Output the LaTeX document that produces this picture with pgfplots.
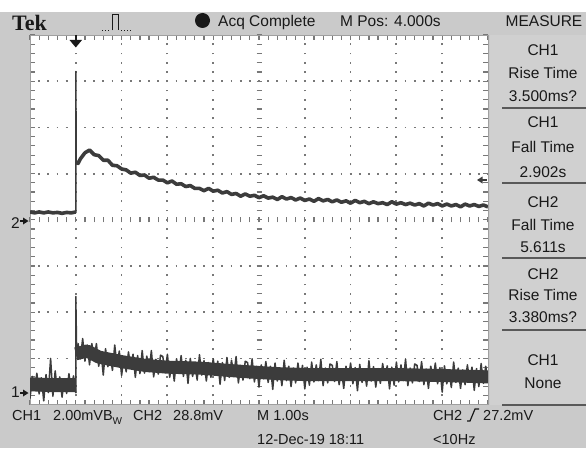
\documentclass[border=0pt]{standalone}
\usepackage{pgfplots}
\pgfplotsset{compat=1.18}
\usepackage{fontspec}
\setmainfont{Liberation Sans}
\newfontfamily\tekfont{Liberation Serif}
\definecolor{scrbg}{RGB}{202,202,202}
\definecolor{panel}{RGB}{208,208,208}
\definecolor{trace}{RGB}{60,60,60}
\definecolor{grat}{RGB}{120,120,120}
\definecolor{txt}{RGB}{25,25,25}

\begin{document}
\begin{tikzpicture}[x=1pt,y=1pt,
  lbl/.style={font=\fontsize{15.5}{16}\selectfont, inner sep=0pt, text=txt},
  blbl/.style={font=\fontsize{14.5}{15}\selectfont, inner sep=0pt, text=txt, anchor=base west}]
\useasboundingbox (0,0) rectangle (586,448);
\fill[scrbg] (0,0) rectangle (586,436);
\fill[white] (0,436) rectangle (586,448);
\fill[panel] (490,43) rectangle (586,413);
\fill[white] (30,43.4) rectangle (488,413);

% centre graticule ticks
\foreach \k in {0,...,50} \draw[grat, line width=1.2pt] ({30+9.16*\k},225.7) -- ++(0,5);
\foreach \k in {0,...,40} \draw[grat, line width=1.2pt] (256.5,{43.4+9.24*\k}) -- ++(5,0);

\begin{axis}[
  at={(30pt,43.4pt)}, anchor=south west,
  width=458pt, height=369.6pt, scale only axis,
  xmin=-1, xmax=9, ymin=-4, ymax=4,
  xtick={0,1,2,3,5,6,7,8}, ytick={-3,-2,-1,1,2,3},
  xticklabel=\empty, yticklabel=\empty,
  minor xtick={-1,-0.8,...,9}, minor ytick={-4,-3.8,...,4},
  major tick length=0pt, minor tick length=4.5pt, tick align=inside,
  minor tick style={grat, line width=1.2pt},
  axis line style={grat!70, line width=0.8pt},
  grid=major,
  major x grid style={grat, line width=1.8pt, dash pattern=on 1.8pt off 7.44pt, dash phase=0.9pt},
  major y grid style={grat, line width=1.8pt, dash pattern=on 1.8pt off 7.36pt, dash phase=0.9pt},
  every axis plot/.append style={draw=trace, no markers, line join=round},
]
% CH2 (upper trace)
\addplot[line width=3.6pt] coordinates {(-1,0.17)(-0.9,0.15)(-0.8,0.17)(-0.7,0.15)(-0.6,0.17)(-0.5,0.15)(-0.4,0.16)(-0.3,0.14)(-0.2,0.16)(-0.1,0.15)(0,0.17)};
\addplot[line width=1.5pt] coordinates {(0,0.15)(0,3.21)(0.01,1.25)};
\addplot[line width=3.6pt] coordinates {
(0.01,1.25)(0.05,1.22)(0.1,1.32)(0.2,1.45)(0.3,1.51)(0.4,1.41)(0.5,1.39)(0.6,1.29)(0.7,1.29)(0.8,1.18)(0.9,1.17)
(1.0,1.10)(1.1,1.08)(1.2,1.01)(1.3,1.03)(1.4,0.96)(1.5,0.97)(1.6,0.90)(1.7,0.92)(1.8,0.86)(1.9,0.86)
(2.0,0.80)(2.1,0.84)(2.2,0.77)(2.3,0.78)(2.4,0.72)(2.5,0.74)(2.6,0.68)(2.7,0.68)(2.8,0.63)(2.9,0.68)
(3.0,0.62)(3.1,0.64)(3.2,0.58)(3.3,0.61)(3.4,0.55)(3.5,0.57)(3.6,0.51)(3.7,0.56)(3.8,0.51)(3.9,0.53)
(4.0,0.48)(4.1,0.52)(4.2,0.47)(4.3,0.49)(4.4,0.44)(4.5,0.50)(4.6,0.45)(4.7,0.48)(4.8,0.43)(4.9,0.47)
(5.0,0.42)(5.1,0.45)(5.2,0.40)(5.3,0.46)(5.4,0.41)(5.5,0.44)(5.6,0.39)(5.7,0.43)(5.8,0.38)(5.9,0.41)
(6.0,0.36)(6.1,0.42)(6.2,0.37)(6.3,0.40)(6.4,0.35)(6.5,0.39)(6.6,0.35)(6.7,0.37)(6.8,0.33)(6.9,0.39)
(7.0,0.34)(7.1,0.37)(7.2,0.33)(7.3,0.36)(7.4,0.32)(7.5,0.35)(7.6,0.30)(7.7,0.36)(7.8,0.32)(7.9,0.35)
(8.0,0.30)(8.1,0.34)(8.2,0.30)(8.3,0.33)(8.4,0.28)(8.5,0.34)(8.6,0.30)(8.7,0.33)(8.8,0.29)(8.9,0.32)(9.0,0.28)};
% CH1 (lower trace): solid core band and noise
\addplot[line width=14pt, line cap=butt] coordinates {(-1,-3.56)(-0.5,-3.58)(0,-3.58)};
\addplot[line width=13pt, line cap=butt] coordinates {(0,-2.90)(0.25,-2.84)(0.5,-2.97)(1,-3.07)(1.5,-3.15)(2,-3.19)(2.7,-3.21)(3.6,-3.28)(4.4,-3.33)(5,-3.35)(7,-3.35)(8,-3.37)(9,-3.40)};
\addplot[line width=1.5pt] coordinates {
(-1.00,-3.87)(-0.95,-3.39)(-0.90,-3.69)(-0.85,-3.32)(-0.80,-3.77)(-0.75,-3.42)(-0.70,-3.92)(-0.65,-3.35)(-0.60,-3.74)(-0.55,-3.00)
(-0.50,-3.82)(-0.45,-3.27)(-0.40,-3.71)(-0.35,-3.40)(-0.30,-3.84)(-0.25,-3.44)(-0.20,-3.76)(-0.15,-3.33)(-0.10,-3.68)(-0.05,-3.38)(0,-3.75)};
\addplot[line width=1.5pt] coordinates {(0,-3.75)(0,-1.66)(0.02,-2.95)};
\addplot[line width=1.5pt] coordinates {
(0.02,-2.95)(0.05,-2.68)(0.10,-3.01)(0.15,-2.57)(0.20,-3.06)(0.25,-2.71)(0.30,-3.14)(0.35,-2.68)(0.40,-3.01)(0.45,-2.68)(0.50,-3.17)
(0.55,-2.86)(0.60,-3.36)(0.65,-2.79)(0.70,-3.18)(0.75,-2.91)(0.80,-3.26)(0.85,-2.71)(0.90,-3.15)(0.95,-2.84)(1.00,-3.37)
(1.05,-2.97)(1.10,-3.29)(1.15,-2.86)(1.20,-3.21)(1.25,-2.91)(1.30,-3.41)(1.35,-2.94)(1.40,-3.33)(1.45,-2.83)(1.50,-3.32)
(1.55,-2.95)(1.60,-3.29)(1.65,-2.83)(1.70,-3.40)(1.75,-3.02)(1.80,-3.34)(1.85,-2.93)(1.90,-2.96)(1.95,-3.31)(2.00,-2.91)
(2.05,-3.41)(2.10,-3.07)(2.15,-3.49)(2.20,-3.01)(2.25,-3.31)(2.30,-2.94)(2.35,-3.39)(2.40,-3.04)(2.45,-3.54)(2.50,-3.00)
(2.55,-3.39)(2.60,-3.12)(2.65,-3.47)(2.70,-2.92)(2.75,-3.36)(2.80,-3.05)(2.85,-3.49)(2.90,-3.09)(2.95,-3.41)(3.00,-3.01)
(3.05,-3.36)(3.10,-3.06)(3.15,-3.56)(3.20,-3.09)(3.25,-3.48)(3.30,-2.98)(3.35,-3.41)(3.40,-3.04)(3.45,-3.38)(3.50,-2.96)
(3.55,-3.53)(3.60,-3.15)(3.65,-3.47)(3.70,-3.06)(3.75,-3.09)(3.80,-3.44)(3.85,-3.01)(3.90,-3.51)(3.95,-3.17)(4.00,-3.62)
(4.05,-3.14)(4.10,-3.44)(4.15,-3.07)(4.20,-3.52)(4.25,-3.17)(4.30,-3.67)(4.35,-3.10)(4.40,-3.49)(4.45,-3.22)(4.50,-3.59)
(4.55,-3.04)(4.60,-3.48)(4.65,-3.17)(4.70,-3.61)(4.75,-3.21)(4.80,-3.53)(4.85,-3.10)(4.90,-3.45)(4.95,-3.15)(5.00,-3.66)
(5.05,-3.19)(5.10,-3.58)(5.15,-3.08)(5.20,-3.51)(5.25,-3.14)(5.30,-3.48)(5.35,-3.02)(5.40,-3.59)(5.45,-3.21)(5.50,-3.53)
(5.55,-3.12)(5.60,-3.15)(5.65,-3.50)(5.70,-3.07)(5.75,-3.57)(5.80,-3.23)(5.85,-3.65)(5.90,-3.17)(5.95,-3.47)(6.00,-3.10)
(6.05,-3.55)(6.10,-3.20)(6.15,-3.70)(6.20,-3.13)(6.25,-3.52)(6.30,-3.25)(6.35,-3.60)(6.40,-3.05)(6.45,-3.49)(6.50,-3.18)
(6.55,-3.62)(6.60,-3.22)(6.65,-3.54)(6.70,-3.11)(6.75,-3.46)(6.80,-3.16)(6.85,-3.66)(6.90,-3.19)(6.95,-3.58)(7.00,-3.08)
(7.05,-3.51)(7.10,-3.14)(7.15,-3.48)(7.20,-3.02)(7.25,-3.59)(7.30,-3.21)(7.35,-3.53)(7.40,-3.12)(7.45,-3.15)(7.50,-3.50)
(7.55,-3.07)(7.60,-3.57)(7.65,-3.23)(7.70,-3.65)(7.75,-3.17)(7.80,-3.47)(7.85,-3.10)(7.90,-3.55)(7.95,-3.20)(8.00,-3.73)
(8.05,-3.16)(8.10,-3.55)(8.15,-3.28)(8.20,-3.63)(8.25,-3.08)(8.30,-3.52)(8.35,-3.21)(8.40,-3.65)(8.45,-3.25)(8.50,-3.57)
(8.55,-3.14)(8.60,-3.49)(8.65,-3.19)(8.70,-3.69)(8.75,-3.22)(8.80,-3.61)(8.85,-3.11)(8.90,-3.54)(8.95,-3.17)(9.00,-3.51)};
\end{axis}

% trigger position and level markers
\draw[txt, line width=1.6pt] (75.8,413) -- (75.8,407);
\fill[txt] (69.5,408) -- (82,408) -- (75.8,400.5) -- cycle;
\fill[trace] (477,268) -- (482.5,264.5) -- (482.5,271.5) -- cycle;
\draw[trace, line width=1.2pt] (482,268) -- (487,268);

% channel ground markers
\node[lbl] at (15.5,225) {2};
\draw[txt, line width=1.2pt] (20,227) -- (24,227);
\fill[txt] (23,223.5) -- (28.5,227) -- (23,230.5) -- cycle;
\node[lbl] at (15.5,55.5) {1};
\draw[txt, line width=1.2pt] (20,55) -- (24,55);
\fill[txt] (23,51.5) -- (28.5,55) -- (23,58.5) -- cycle;

% top bar
\node[anchor=base west, inner sep=0pt, text=txt, font=\tekfont\bfseries\fontsize{22}{22}\selectfont] at (12,417) {Tek};
\draw[txt, line width=0.9pt] (112,417.5) -- (112,434) -- (118,434) -- (118,417.5);
\draw[txt, line width=1pt, dotted] (102,417.5) -- (110,417.5);
\draw[txt, line width=1pt, dotted] (121,417.5) -- (133,417.5);
\fill[txt] (202.5,427.5) circle (7.5);
\node[lbl, anchor=base west] at (218,421) {Acq Complete};
\node[lbl, anchor=base west] at (340,421) {M Pos: 4.000s};
\node[lbl, anchor=base] at (544,421) {MEASURE};

% measurement panel
\foreach \y in {108,183,258,330,405} \draw[black!65, line width=1.5pt] (502,{448-\y}) -- (586,{448-\y});
\node[lbl, anchor=base] at (543,392) {CH1};
\node[lbl, anchor=base] at (543,369) {Rise Time};
\node[lbl, anchor=base] at (543,346) {3.500ms?};
\node[lbl, anchor=base] at (543,320) {CH1};
\node[lbl, anchor=base] at (543,295) {Fall Time};
\node[lbl, anchor=base] at (543,271) {2.902s};
\node[lbl, anchor=base] at (543,241) {CH2};
\node[lbl, anchor=base] at (543,218) {Fall Time};
\node[lbl, anchor=base] at (543,196) {5.611s};
\node[lbl, anchor=base] at (543,169) {CH2};
\node[lbl, anchor=base] at (543,148) {Rise Time};
\node[lbl, anchor=base] at (543,126) {3.380ms?};
\node[lbl, anchor=base] at (543,83) {CH1};
\node[lbl, anchor=base] at (543,60) {None};

% bottom status lines
\node[blbl] at (12,28) {CH1};
\node[blbl] at (53,28) {2.00mV};
\node[blbl] at (103,28) {B};
\node[anchor=base west, inner sep=0pt, text=txt, font=\fontsize{10}{10}\selectfont] at (112.5,24) {W};
\node[blbl] at (133,28) {CH2};
\node[blbl] at (173,28) {28.8mV};
\node[blbl] at (257,28) {M 1.00s};
\node[blbl] at (433,28) {CH2};
\draw[txt, line width=1.2pt] (467,27) -- (470,27) -- (475,39) -- (479,39);
\node[blbl] at (483,28) {27.2mV};
\node[blbl] at (257,4) {12-Dec-19 18:11};
\node[blbl] at (433,4) {<10Hz};
\end{tikzpicture}
\end{document}
